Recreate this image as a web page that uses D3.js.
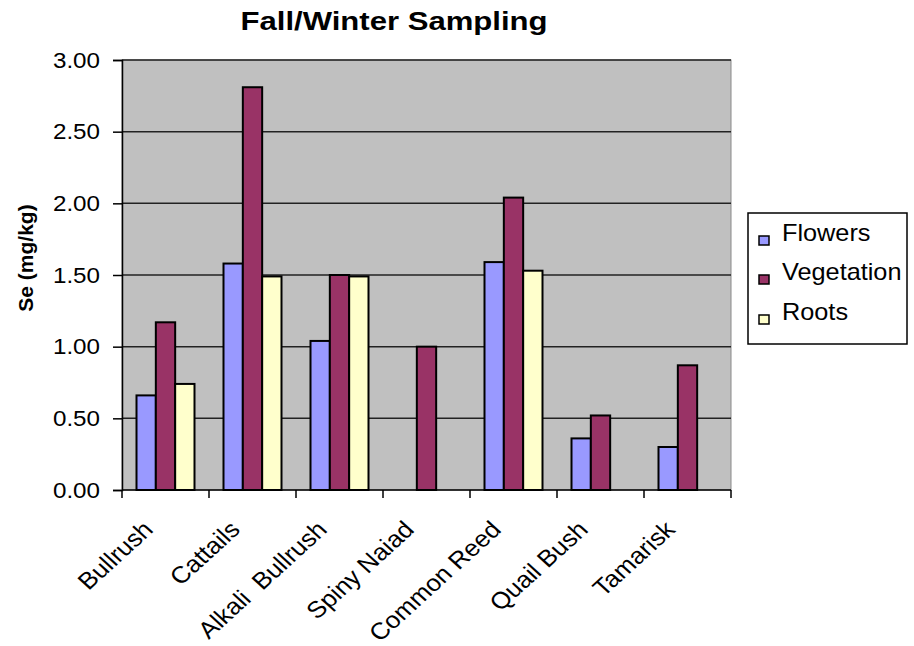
<!DOCTYPE html>
<html>
<head>
<meta charset="utf-8">
<script src="https://cdn.jsdelivr.net/npm/d3@7"></script>
<style>
  html, body { margin: 0; padding: 0; background: #fff; }
  svg { display: block; font-family: Arial, "Liberation Sans", sans-serif; }
</style>
</head>
<body>
<svg id="chart" width="914" height="646"></svg>
<script>
// Selenium concentration by plant and tissue type
const categories = ["Bullrush", "Cattails", "Alkali  Bullrush", "Spiny Naiad", "Common Reed", "Quail Bush", "Tamarisk"];
const seriesNames = ["Flowers", "Vegetation", "Roots"];
const flowers    = [0.66, 1.58, 1.04, null, 1.59, 0.36, 0.30];
const vegetation = [1.17, 2.81, 1.50, 1.00, 2.04, 0.52, 0.87];
const roots      = [0.74, 1.49, 1.49, null, 1.53, null, null];
const seriesColors = ["#9999FF", "#993366", "#FFFFCC"];
const yTicks = [0, 0.5, 1, 1.5, 2, 2.5, 3];

const seriesValues = [flowers, vegetation, roots];

// Text in this chart is set slightly wide
const WIDE = 1.1;

const svg = d3.select("#chart");
const plot = { left: 122, right: 731, top: 60, bottom: 490 };

const x = d3.scaleBand()
  .domain(categories)
  .range([plot.left, plot.right])
  .paddingInner(1 / 3)
  .paddingOuter(1 / 6);

const xs = d3.scaleBand()
  .domain(seriesNames)
  .range([0, x.bandwidth()]);

const y = d3.scaleLinear().domain([0, 3]).range([plot.bottom, plot.top]);

// Plot background
svg.append("rect")
  .attr("x", plot.left).attr("y", plot.top)
  .attr("width", plot.right - plot.left).attr("height", plot.bottom - plot.top)
  .attr("fill", "#C0C0C0")
  .attr("stroke", "#8a8a8a").attr("stroke-width", 1);

// Horizontal gridlines
svg.append("g")
  .selectAll("line")
  .data(yTicks.filter(d => d > 0))
  .join("line")
  .attr("x1", plot.left).attr("x2", plot.right)
  .attr("y1", d => y(d)).attr("y2", d => y(d))
  .attr("stroke", "#222").attr("stroke-width", 1.5);

// Bars
const rows = categories.map((c, i) => ({
  category: c,
  values: seriesNames.map((s, j) => ({ series: s, idx: j, value: seriesValues[j][i] }))
}));

svg.append("g")
  .selectAll("g")
  .data(rows)
  .join("g")
  .attr("transform", d => `translate(${x(d.category)},0)`)
  .selectAll("rect")
  .data(d => d.values.filter(v => v.value != null))
  .join("rect")
  .attr("x", d => xs(d.series))
  .attr("width", xs.bandwidth())
  .attr("y", d => y(d.value))
  .attr("height", d => y(0) - y(d.value))
  .attr("fill", d => seriesColors[d.idx])
  .attr("stroke", "#000")
  .attr("stroke-width", 2);

// Y axis
const yAxis = d3.axisLeft(y)
  .tickValues(yTicks)
  .tickFormat(d3.format(".2f"))
  .tickSize(9)
  .tickPadding(0);

const yg = svg.append("g")
  .attr("transform", `translate(${plot.left},0)`)
  .call(yAxis);
yg.select(".domain").attr("stroke", "#000").attr("stroke-width", 1.5);
yg.selectAll(".tick line").attr("stroke", "#000").attr("stroke-width", 1.5);
yg.selectAll(".tick text")
  .attr("x", null)
  .attr("transform", `translate(-22,0) scale(${WIDE},1)`)
  .attr("font-size", 22)
  .attr("font-family", "Arial, 'Liberation Sans', sans-serif")
  .attr("fill", "#000");

// X axis: ticks sit on category boundaries
const step = x.step();
const boundaries = d3.range(categories.length + 1).map(i => plot.left + i * step);
const xg = svg.append("g");
xg.append("line")
  .attr("x1", plot.left).attr("x2", plot.right)
  .attr("y1", plot.bottom).attr("y2", plot.bottom)
  .attr("stroke", "#000").attr("stroke-width", 1.5);
xg.selectAll("line.tk")
  .data(boundaries)
  .join("line")
  .attr("class", "tk")
  .attr("x1", d => d).attr("x2", d => d)
  .attr("y1", plot.bottom).attr("y2", plot.bottom + 8)
  .attr("stroke", "#000").attr("stroke-width", 1.5);

// Rotated category labels
xg.selectAll("text")
  .data(categories)
  .join("text")
  .attr("transform", d => `translate(${x(d) + x.bandwidth() / 2 - 11},${plot.bottom + 41}) scale(${WIDE},1) rotate(-45)`)
  .attr("text-anchor", "end")
  .attr("font-size", 23.5)
  .attr("xml:space", "preserve")
  .style("white-space", "pre")
  .attr("fill", "#000")
  .text(d => d);

// Title
svg.append("text")
  .attr("x", 394).attr("y", 30)
  .attr("text-anchor", "middle")
  .attr("font-size", 25)
  .attr("font-weight", "bold")
  .attr("textLength", 307)
  .attr("lengthAdjust", "spacingAndGlyphs")
  .text("Fall/Winter Sampling");

// Y axis title
svg.append("text")
  .attr("transform", "translate(33,258) rotate(-90)")
  .attr("text-anchor", "middle")
  .attr("font-size", 21)
  .attr("font-weight", "bold")
  .text("Se (mg/kg)");

// Legend
const legend = svg.append("g");
legend.append("rect")
  .attr("x", 748).attr("y", 213)
  .attr("width", 159).attr("height", 131)
  .attr("fill", "#fff")
  .attr("stroke", "#000").attr("stroke-width", 1.5);

const legendRows = [241, 280, 320];
const items = legend.selectAll("g.item")
  .data(seriesNames)
  .join("g")
  .attr("class", "item")
  .attr("transform", (d, i) => `translate(759,${legendRows[i]})`);
items.append("rect")
  .attr("x", 0).attr("y", -5)
  .attr("width", 10).attr("height", 9)
  .attr("fill", (d, i) => seriesColors[i])
  .attr("stroke", "#000").attr("stroke-width", 1.5);
items.append("text")
  .attr("transform", `translate(23,0) scale(${WIDE},1)`)
  .attr("font-size", 23)
  .attr("fill", "#000")
  .text(d => d);
</script>
</body>
</html>
